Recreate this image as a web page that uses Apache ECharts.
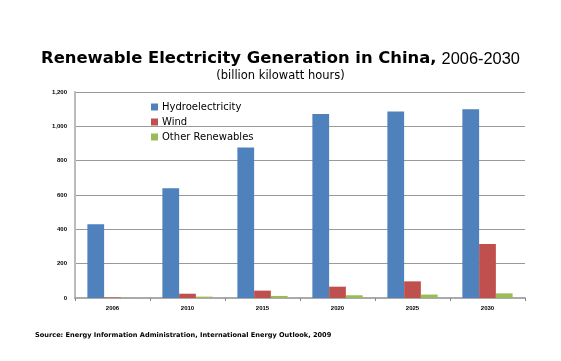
<!DOCTYPE html>
<html><head><meta charset="utf-8">
<script src="https://cdn.jsdelivr.net/npm/echarts@6/dist/echarts.min.js"></script>
<style>html,body{margin:0;padding:0;background:#fff}#c{width:561px;height:361px}</style>
</head><body><div id="c"></div>
<script>
const categories = ['2006','2010','2015','2020','2025','2030'];
const hydro = [430, 640, 876, 1072, 1087, 1099];
const wind = [3, 25, 43, 66, 97, 315];
const other = [1, 8, 12, 16, 20, 27];
const yTicks = [0, 200, 400, 600, 800, 1000, 1200];

const chart = echarts.init(document.getElementById('c'));
const fmt = v => v >= 1000 ? Math.floor(v/1000) + ',' + String(v%1000).padStart(3,'0') : String(v);
chart.setOption({
  animation: false,
  backgroundColor: '#fff',
  title: [{
    text: '{b|Renewable Electricity Generation in China,} {n|2006-2030}',
    left: 'center', top: 45,
    textStyle: { rich: {
      b: { fontFamily: 'DejaVu Sans', fontWeight: 'bold', fontSize: 16.4, color: '#000' },
      n: { fontFamily: 'Liberation Sans, Arial', fontWeight: 'normal', fontSize: 16.4, color: '#000' }
    }}
  }, {
    text: '(billion kilowatt hours)',
    left: 'center', top: 65,
    textStyle: { fontFamily: 'DejaVu Sans', fontWeight: 'normal', fontSize: 11.5, color: '#000' }
  }, {
    text: 'Source: Energy Information Administration, International Energy Outlook, 2009',
    left: 35, top: 332, padding: 0,
    textStyle: { fontFamily: 'DejaVu Sans', fontWeight: 'bold', fontSize: 6.6, color: '#000' }
  }],
  legend: {
    orient: 'vertical', left: 146, top: 97, itemGap: 5,
    itemWidth: 7, itemHeight: 7, icon: 'rect',
    textStyle: { fontFamily: 'DejaVu Sans', fontSize: 10, color: '#000', padding: [0,0,0,-1] },
    data: ['Hydroelectricity', 'Wind', 'Other Renewables']
  },
  grid: { left: 75, right: 36, top: 92, bottom: 63, containLabel: false },
  xAxis: {
    type: 'category', data: categories,
    axisLine: { lineStyle: { color: '#aaa', width: 2 } },
    axisTick: { show: true, alignWithLabel: false, length: 3, lineStyle: { color: '#888' } },
    axisLabel: { fontFamily: 'Liberation Sans, Arial', fontWeight: 'bold', fontSize: 6, color: '#000', margin: 7 }
  },
  yAxis: {
    type: 'value', min: yTicks[0], max: yTicks[yTicks.length-1], interval: 200,
    axisLine: { show: true, lineStyle: { color: '#bbb', width: 2 } },
    axisTick: { show: false },
    splitLine: { lineStyle: { color: '#999', width: 1 } },
    axisLabel: { formatter: fmt, fontFamily: 'Liberation Sans, Arial', fontWeight: 'bold', fontSize: 6, color: '#000', margin: 8 }
  },
  series: [
    { name: 'Hydroelectricity', type: 'bar', data: hydro, barGap: '0%', barCategoryGap: '33%', itemStyle: { color: '#4F81BD' } },
    { name: 'Wind', type: 'bar', data: wind, itemStyle: { color: '#C0504D' } },
    { name: 'Other Renewables', type: 'bar', data: other, itemStyle: { color: '#9BBB59' } }
  ]
});
</script></body></html>
